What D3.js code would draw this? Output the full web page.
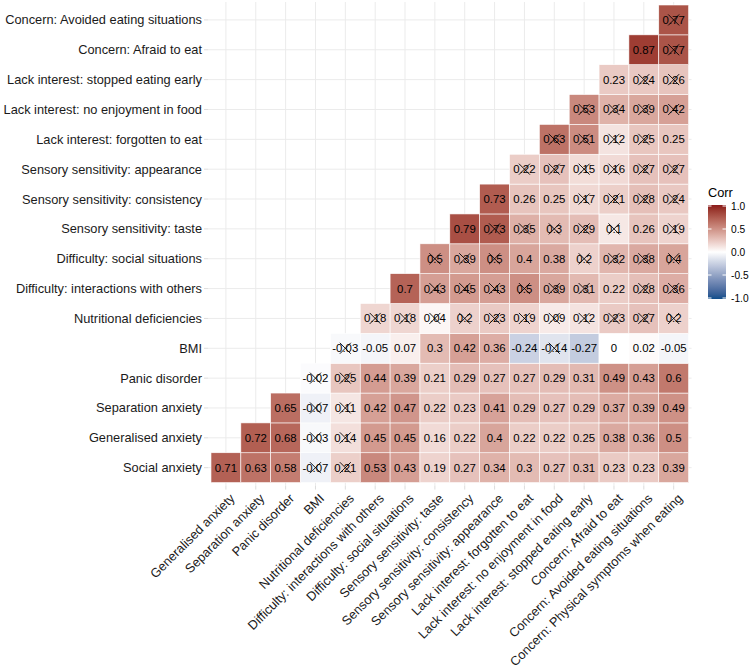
<!DOCTYPE html>
<html><head><meta charset="utf-8">
<script src="https://cdn.jsdelivr.net/npm/d3@7"></script>
<style>body{margin:0;background:#fff}svg{display:block;font-family:"Liberation Sans",Arial,sans-serif}</style>
</head><body><svg id="c" width="750" height="667"></svg>
<script>
// variables in order
const variables = ["Social anxiety","Generalised anxiety","Separation anxiety","Panic disorder","BMI",
 "Nutritional deficiencies","Difficulty: interactions with others","Difficulty: social situations",
 "Sensory sensitivity: taste","Sensory sensitivity: consistency","Sensory sensitivity: appearance",
 "Lack interest: forgotten to eat","Lack interest: no enjoyment in food","Lack interest: stopped eating early",
 "Concern: Afraid to eat","Concern: Avoided eating situations","Concern: Physical symptoms when eating"];
const yVars = variables.slice(0,16);
const xVars = variables.slice(1);
// correlation values per row (row variable i vs columns i+1..16)
const corrValues = [
 [0.71,0.63,0.58,-0.07,0.21,0.53,0.43,0.19,0.27,0.34,0.3,0.27,0.31,0.23,0.23,0.39],
 [0.72,0.68,-0.03,0.14,0.45,0.45,0.16,0.22,0.4,0.22,0.22,0.25,0.38,0.36,0.5],
 [0.65,-0.07,0.11,0.42,0.47,0.22,0.23,0.41,0.29,0.27,0.29,0.37,0.39,0.49],
 [-0.02,0.25,0.44,0.39,0.21,0.29,0.27,0.27,0.29,0.31,0.49,0.43,0.6],
 [-0.03,-0.05,0.07,0.3,0.42,0.36,-0.24,-0.14,-0.27,0,0.02,-0.05],
 [0.18,0.18,0.04,0.2,0.23,0.19,0.09,0.12,0.23,0.27,0.2],
 [0.7,0.43,0.45,0.43,0.5,0.39,0.31,0.22,0.28,0.36],
 [0.5,0.39,0.5,0.4,0.38,0.2,0.32,0.38,0.4],
 [0.79,0.73,0.35,0.3,0.29,0.1,0.26,0.19],
 [0.73,0.26,0.25,0.17,0.21,0.28,0.24],
 [0.22,0.27,0.15,0.16,0.27,0.27],
 [0.63,0.51,0.12,0.25,0.25],
 [0.53,0.34,0.39,0.42],
 [0.23,0.24,0.26],
 [0.87,0.77],
 [0.77]
];
// 1 = non-significant (crossed)
const insignificant = [
 [0,0,0,1,1,0,0,0,0,0,0,0,0,0,0,0],
 [0,0,1,1,0,0,0,0,0,0,0,0,0,0,0],
 [0,1,1,0,0,0,0,0,0,0,0,0,0,0],
 [1,1,0,0,0,0,0,0,0,0,0,0,0],
 [1,0,0,0,0,0,0,1,0,0,0,0],
 [1,1,1,1,1,1,1,1,1,1,1],
 [0,1,1,1,1,1,1,0,1,1],
 [1,1,1,0,0,1,1,1,1],
 [0,1,1,1,1,1,0,1],
 [0,0,0,1,1,1,1],
 [1,1,1,1,1,1],
 [1,1,1,1,0],
 [1,1,1,1],
 [0,1,1],
 [0,1],
 [1]
];
const legendTicks = [1.0,0.5,0.0,-0.5,-1.0];
const lowColor = "#104E8B", midColor = "#FFFFFF", highColor = "#8B1A1A";

const cells = [];
corrValues.forEach((row,i)=>row.forEach((v,k)=>{
  cells.push({yv:variables[i], xv:variables[i+1+k], v, ns:insignificant[i][k]});
}));

const svg = d3.select("#c");
const cell = 29.85, x0 = 211, y0 = 5;
const x = d3.scaleBand().domain(xVars).range([x0, x0+16*cell]);
const y = d3.scaleBand().domain(yVars.slice().reverse()).range([y0, y0+16*cell]);
const color = d3.scaleLinear().domain([-1,0,1]).range([lowColor,midColor,highColor]).interpolate(d3.interpolateLab);
const px0 = x0-0.1*cell, px1 = x0+16.1*cell, py0 = y0-0.1*cell, py1 = y0+16.1*cell;

// grid
const g = svg.append("g");
g.selectAll(".vg").data(xVars).join("line")
 .attr("x1",d=>x(d)+cell/2).attr("x2",d=>x(d)+cell/2).attr("y1",py0).attr("y2",py1)
 .attr("stroke","#EBEBEB").attr("stroke-width",1);
g.selectAll(".hg").data(yVars).join("line")
 .attr("y1",d=>y(d)+cell/2).attr("y2",d=>y(d)+cell/2).attr("x1",px0).attr("x2",px1)
 .attr("stroke","#EBEBEB").attr("stroke-width",1);
// ticks
g.selectAll(".xt").data(xVars).join("line")
 .attr("x1",d=>x(d)+cell/2).attr("x2",d=>x(d)+cell/2).attr("y1",py1).attr("y2",py1+4)
 .attr("stroke","#DDDDDD");
g.selectAll(".yt").data(yVars).join("line")
 .attr("y1",d=>y(d)+cell/2).attr("y2",d=>y(d)+cell/2).attr("x1",px0-4).attr("x2",px0)
 .attr("stroke","#DDDDDD");

// tiles
svg.append("g").selectAll("rect").data(cells).join("rect")
 .attr("x",d=>x(d.xv)).attr("y",d=>y(d.yv)).attr("width",x.bandwidth()).attr("height",y.bandwidth())
 .attr("fill",d=>color(d.v)).attr("stroke","#fff").attr("stroke-width",0.6);
// labels
svg.append("g").selectAll("text").data(cells).join("text")
 .attr("x",d=>x(d.xv)+cell/2).attr("y",d=>y(d.yv)+cell/2)
 .attr("text-anchor","middle").attr("dominant-baseline","central")
 .attr("font-size",11.4).attr("fill","#000").text(d=>String(d.v));
// crosses
const cr = svg.append("g").selectAll("g").data(cells.filter(d=>d.ns)).join("g")
 .attr("transform",d=>`translate(${x(d.xv)+cell/2},${y(d.yv)+cell/2})`);
cr.append("line").attr("x1",-5.5).attr("y1",-5.5).attr("x2",5.5).attr("y2",5.5).attr("stroke","#000").attr("stroke-width",0.9);
cr.append("line").attr("x1",-5.5).attr("y1",5.5).attr("x2",5.5).attr("y2",-5.5).attr("stroke","#000").attr("stroke-width",0.9);

// y axis labels
svg.append("g").selectAll("text").data(yVars).join("text")
 .attr("x",px0-6).attr("y",d=>y(d)+cell/2).attr("text-anchor","end").attr("dominant-baseline","central")
 .attr("font-size",12.8).attr("fill","#1A1A1A").text(d=>d);
// x axis labels
svg.append("g").selectAll("text").data(xVars).join("text")
 .attr("transform",d=>`translate(${x(d)+cell/2+3},${py1+7}) rotate(-45)`)
 .attr("text-anchor","end").attr("dy","0.72em")
 .attr("font-size",12.8).attr("fill","#1A1A1A").text(d=>d);

// legend
const lg = svg.append("g");
lg.append("text").attr("x",708).attr("y",197).attr("font-size",12.8).attr("fill","#000").text("Corr");
const defs = svg.append("defs");
const grad = defs.append("linearGradient").attr("id","lgd").attr("x1",0).attr("x2",0).attr("y1",0).attr("y2",1);
d3.range(0,1.0001,0.05).forEach(t=>grad.append("stop").attr("offset",t).attr("stop-color",color(1-2*t)));
const ls = d3.scaleLinear().domain([1,-1]).range([206,298]);
lg.append("rect").attr("x",708).attr("y",205).attr("width",18).attr("height",94).attr("fill","url(#lgd)");
legendTicks.forEach(t=>{
  lg.append("line").attr("x1",708).attr("x2",711.5).attr("y1",ls(t)).attr("y2",ls(t)).attr("stroke","#fff");
  lg.append("line").attr("x1",722.5).attr("x2",726).attr("y1",ls(t)).attr("y2",ls(t)).attr("stroke","#fff");
  lg.append("text").attr("x",731).attr("y",ls(t)).attr("dominant-baseline","central")
    .attr("font-size",10.2).attr("fill","#000").text(d3.format(".1f")(t).replace("−","-"));
});
</script></body></html>
